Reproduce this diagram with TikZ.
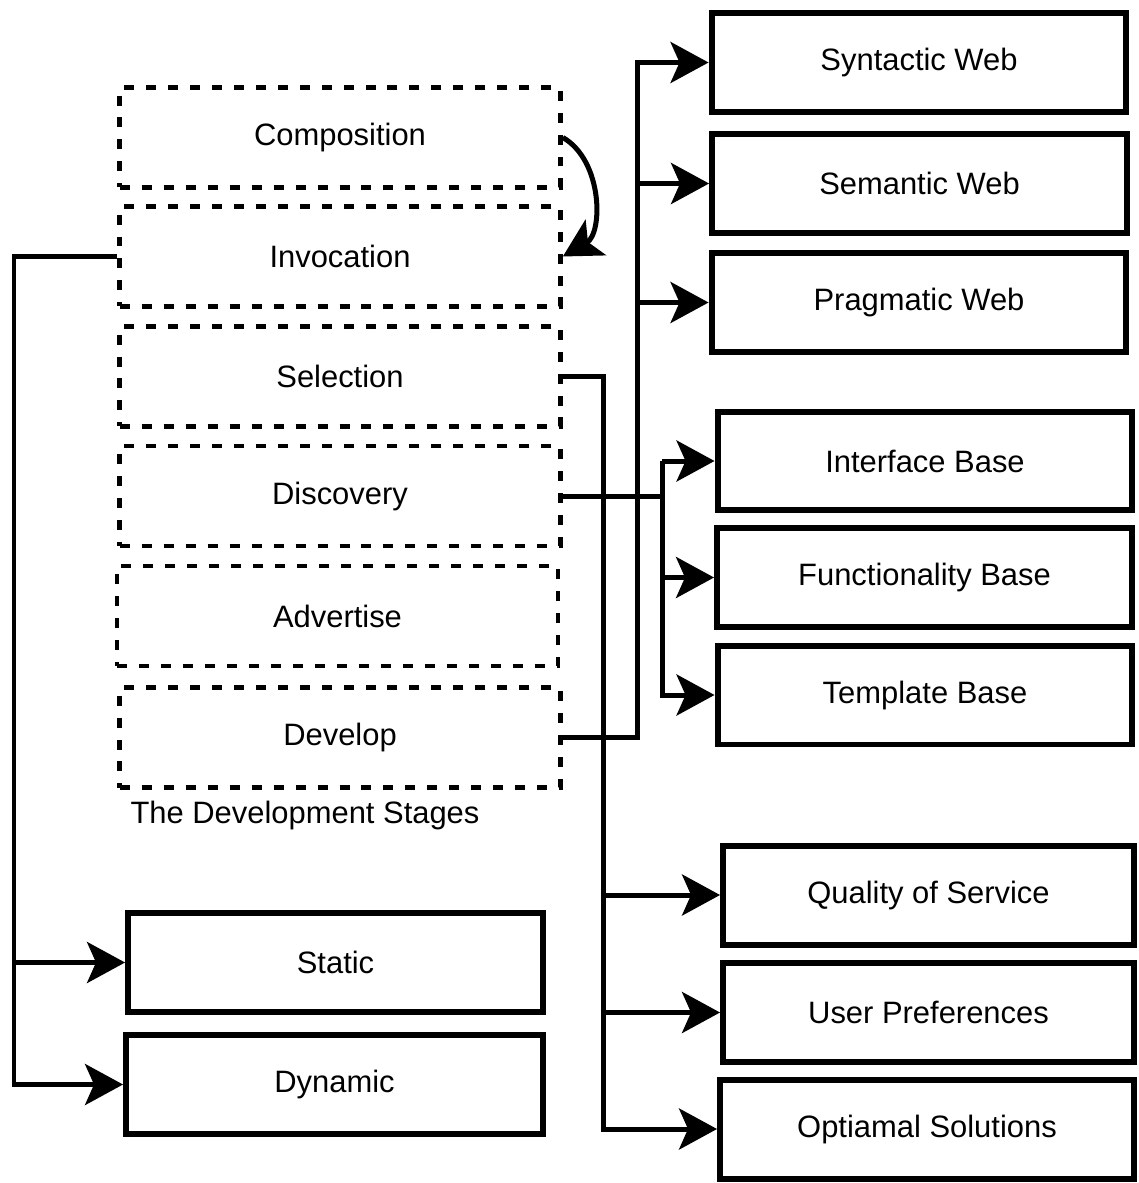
\documentclass[tikz,border=0pt]{standalone}
\usepackage{fontspec}
\setmainfont{Liberation Sans}
\usetikzlibrary{arrows.meta}
\tikzset{
  stage/.style={draw, line width=0.95mm, dash pattern=on 2mm off 2.4mm,
    minimum width=8.82cm, minimum height=2cm, inner sep=0pt},
  block/.style={draw, line width=1.2mm, minimum width=8.3cm,
    minimum height=1.98cm, inner sep=0pt},
  link/.style={line width=1mm, -{Stealth[length=7.6mm,width=8.2mm,inset=1.8mm]}},
  every node/.style={font=\fontsize{17.6}{21}\selectfont}
}

\begin{document}
\begin{tikzpicture}[x=0.02cm, y=-0.02cm]
		\useasboundingbox (0,0) rectangle (1139,1183);
		%%%%% STAGES %%%%%
		\node[stage] (comp) at (340, 137.5) {Composition};
		\node[stage] (inv) at (340, 256.5) {Invocation};
		\node[stage] (sel) at (340, 376.5) {Selection};
		\node[stage] (disc) at (340, 496) {Discovery};
		\node[stage] (adv) at (337.5, 616) {Advertise};
		\node[stage] (dev) at (340, 737.5) {Develop};
		\node (cap) at (305, 815) {The Development Stages};
		
		%%%%% BLOCKS %%%%%
		\node[block] (syn) at (919, 62.5) {Syntactic Web};
		\node[block] (sem) at (919.5, 183.5) {Semantic Web};
		\node[block] (prag) at (919, 302.5) {Pragmatic Web};
		
		\node[block] (iface) at (925, 461) {Interface Base};
		\node[block] (func) at (924.5, 577.5) {Functionality Base};
		\node[block] (tmpl) at (925, 695) {Template Base};
		
		\node[block, minimum width=8.22cm] (qos) at (928.5, 895) {Quality of Service};
		\node[block, minimum width=8.22cm] (pref) at (928.5, 1012.5) {User Preferences};
		\node[block, minimum width=8.28cm] (opt) at (927, 1129) {Optiamal Solutions};
		
		\node[block] (stat) at (335.5, 962.5) {Static};
		\node[block, minimum width=8.34cm] (dyn) at (334.5, 1084.5) {Dynamic};
		
		%%%%% BUSES %%%%%
		\coordinate (lbus) at (14, 0);
		\coordinate (sbus) at (603, 0);
		\coordinate (dbus) at (637, 0);
		\coordinate (fbus) at (662, 0);
		
		%%%%% LINKS %%%%%
		\draw[link] (comp.east) to[bend left=60] (inv.east);
		
		\draw[link] (inv.west) -- (inv.west -| lbus) |- (dyn.west);
		\draw[link] (stat.west -| lbus) -- (stat.west);
		
		\draw[link] (dev.east) -- (dev.east -| dbus) |- (syn.west);
		\draw[link] (sem.west -| dbus) -- (sem.west);
		\draw[link] (prag.west -| dbus) -- (prag.west);
		
		\draw[link] (sel.east) -- (sel.east -| sbus) |- (opt.west);
		\draw[link] (qos.west -| sbus) -- (qos.west);
		\draw[link] (pref.west -| sbus) -- (pref.west);
		
		\draw[line width=1mm] (disc.east) -- (disc.east -| fbus);
		\draw[link] (iface.west -| fbus) |- (tmpl.west);
		\draw[link] (iface.west -| fbus) -- (iface.west);
		\draw[link] (func.west -| fbus) -- (func.west);
	\end{tikzpicture}
\end{document}
